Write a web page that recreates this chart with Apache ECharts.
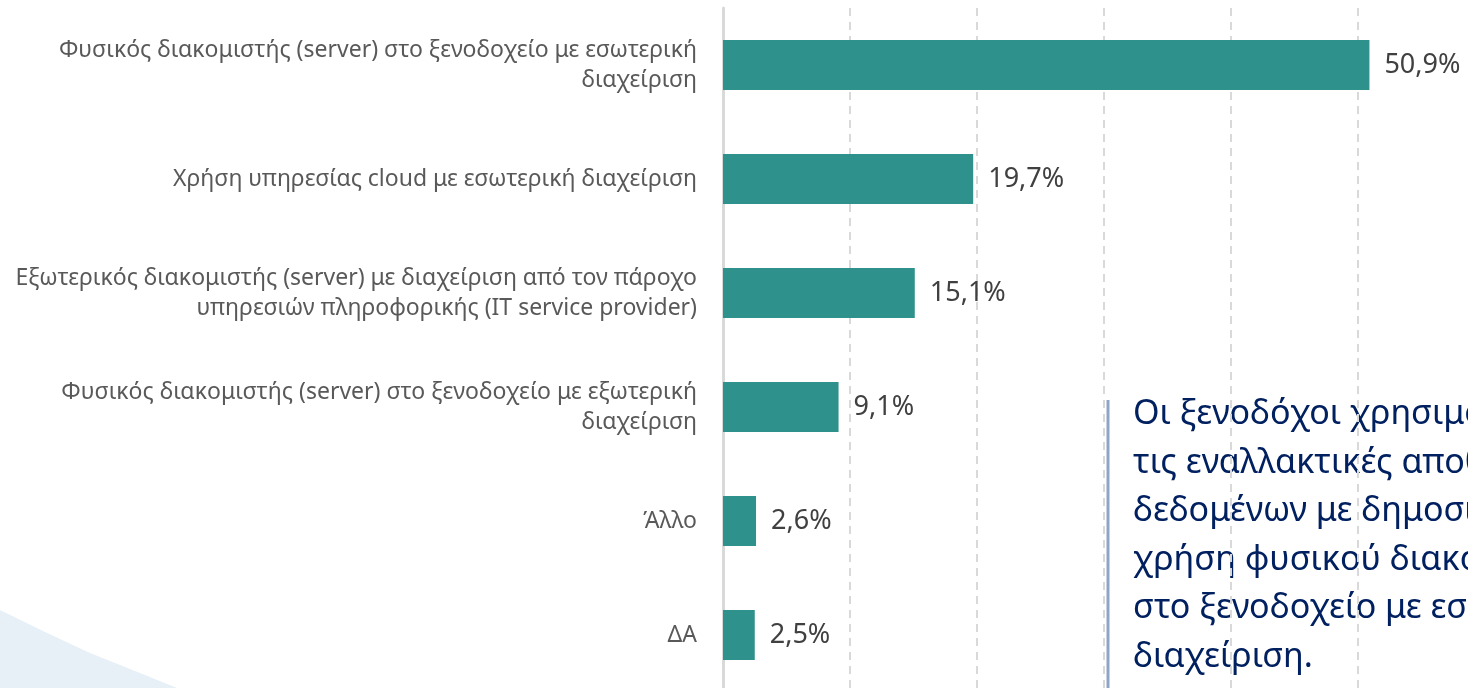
<!DOCTYPE html>
<html>
<head>
<meta charset="utf-8">
<script src="https://cdn.jsdelivr.net/npm/echarts@6/dist/echarts.min.js"></script>
<style>
  html, body { margin: 0; padding: 0; background: #fff; }
  #chart { width: 1468px; height: 688px; }
</style>
</head>
<body>
<div id="chart"></div>
<script>
const categories = [
  'Φυσικός διακομιστής (server) στο ξενοδοχείο με εσωτερική\nδιαχείριση',
  'Χρήση υπηρεσίας cloud με εσωτερική διαχείριση',
  'Εξωτερικός διακομιστής (server) με διαχείριση από τον πάροχο\nυπηρεσιών πληροφορικής (IT service provider)',
  'Φυσικός διακομιστής (server) στο ξενοδοχείο με εξωτερική\nδιαχείριση',
  'Άλλο',
  'ΔΑ'
]
const values = [50.9, 19.7, 15.1, 9.1, 2.6, 2.5]
const noteLines = [
  'Οι ξενοδόχοι χρησιμοποιούν',
  'τις εναλλακτικές αποθήκευσης',
  'δεδομένων με δημοσιότερη',
  'χρήση φυσικού διακομιστή',
  'στο ξενοδοχείο με εσωτερική',
  'διαχείριση.'
]

const font = '"Noto Sans", "Open Sans", sans-serif'
const chart = echarts.init(document.getElementById('chart'))

chart.setOption({
  animation: false,
  textStyle: { fontFamily: font },
  grid: {
    left: 723,
    top: 8,
    width: 762,
    height: 684,
    containLabel: false,
    outerBoundsMode: 'none'
  },
  xAxis: {
    type: 'value',
    min: 0,
    max: 60,
    interval: 10,
    axisLabel: { show: false },
    axisTick: { show: false },
    axisLine: { show: false },
    splitLine: {
      show: true,
      lineStyle: { color: '#d9d9d9', width: 2, type: [8, 6] }
    }
  },
  yAxis: {
    type: 'category',
    inverse: true,
    data: categories,
    axisTick: { show: false },
    axisLine: { show: true, lineStyle: { color: '#d9d9d9', width: 3 } },
    axisLabel: {
      color: '#595959',
      fontSize: 23,
      lineHeight: 30,
      margin: 26,
      align: 'right',
      fontFamily: font
    }
  },
  series: [{
    type: 'bar',
    data: values,
    barWidth: 50,
    itemStyle: { color: '#2e918b' },
    label: {
      show: true,
      position: 'right',
      distance: 15,
      color: '#404040',
      fontSize: 27,
      fontFamily: font,
      formatter: p => String(p.value).replace('.', ',') + '%'
    }
  }],
  graphic: [
    {
      // light background swoosh, bottom-left
      type: 'polygon',
      z: -10,
      shape: {
        points: [[0, 610], [45, 632], [90, 653], [135, 671], [182, 690], [0, 690]]
      },
      style: { fill: '#e7f0f6' }
    },
    {
      type: 'line',
      shape: { x1: 1108, y1: 400, x2: 1108, y2: 690 },
      style: { stroke: '#8fa5c8', lineWidth: 3 }
    },
    {
      type: 'text',
      x: 1133,
      y: 390,
      style: {
        text: noteLines.join('\n'),
        fill: '#002060',
        fontSize: 34,
        lineHeight: 48.6,
        fontFamily: font
      }
    }
  ]
})
</script>
</body>
</html>
